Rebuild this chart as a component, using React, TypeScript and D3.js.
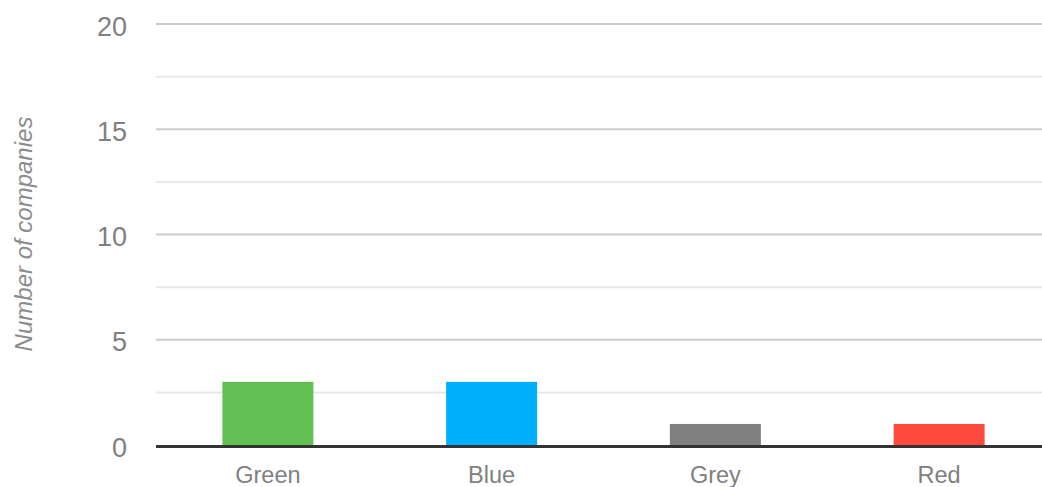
import React from "react";
import * as d3 from "d3";

const categories = ["Green", "Blue", "Grey", "Red"];
const values = [3, 3, 1, 1];
const colors = ["#62c152", "#00b0ff", "#808080", "#ff4a3f"];
const majorTicks = [0, 5, 10, 15, 20];
const minorTicks = [2.5, 7.5, 12.5, 17.5];

export default function App() {
  const W = 1042, H = 487;
  const left = 156, right = 1051, top = 24, bottom = 445;
  const x = d3.scaleBand<string>().domain(categories).range([left, right]).paddingInner(0).paddingOuter(0);
  const y = d3.scaleLinear().domain([0, 20]).range([bottom, top]);
  const bw = 91;
  const font = "Arial, 'Liberation Sans', sans-serif";
  return (
    <svg width={W} height={H} style={{ position: "fixed", left: 0, top: 0, background: "#fff" }}>
      {minorTicks.map((t) => (
        <line key={"m" + t} x1={left} x2={W} y1={y(t)} y2={y(t)} stroke="#e8e8e8" strokeWidth={2} />
      ))}
      {majorTicks.filter((t) => t > 0).map((t) => (
        <line key={"M" + t} x1={left} x2={W} y1={y(t)} y2={y(t)} stroke="#cccccc" strokeWidth={2} />
      ))}
      {categories.map((c, i) => {
        const cx = (x(c) as number) + x.bandwidth() / 2;
        return (
          <rect key={c} x={cx - bw / 2} y={y(values[i])} width={bw} height={bottom - y(values[i])} fill={colors[i]} />
        );
      })}
      <line x1={left} x2={W} y1={bottom + 1.5} y2={bottom + 1.5} stroke="#333333" strokeWidth={3} />
      {majorTicks.map((t) => (
        <text key={"t" + t} x={127} y={y(t) + 2} dy="0.36em" textAnchor="end" fontSize={27} fill="#808080" fontFamily={font}>
          {t}
        </text>
      ))}
      {categories.map((c) => (
        <text key={"c" + c} x={(x(c) as number) + x.bandwidth() / 2} y={474.5} dy="0.36em" textAnchor="middle" fontSize={23.5} fill="#808080" fontFamily={font}>
          {c}
        </text>
      ))}
      <text transform="translate(32,234) rotate(-90)" textAnchor="middle" fontSize={24} fontStyle="italic" fill="#8c8c8c" fontFamily={font}>
        Number of companies
      </text>
    </svg>
  );
}
